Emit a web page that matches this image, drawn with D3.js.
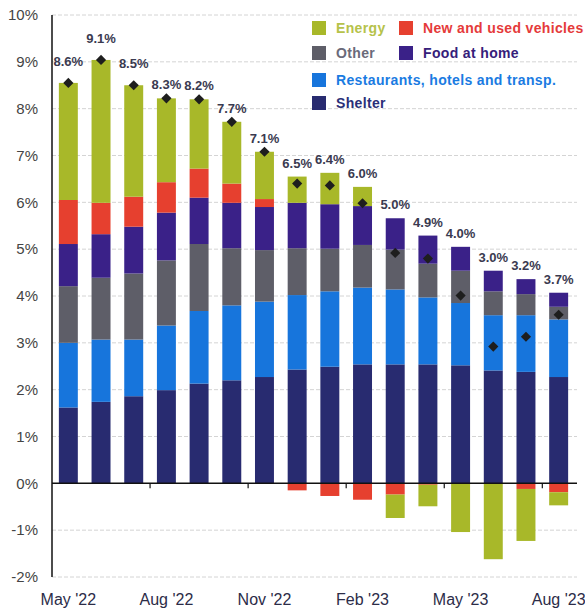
<!DOCTYPE html>
<html><head><meta charset="utf-8">
<script src="https://cdn.jsdelivr.net/npm/d3@7"></script>
<style>body{margin:0;background:#fff}svg{display:block}text{font-family:Arial,"Liberation Sans",sans-serif}</style>
</head><body><svg id="c" width="585" height="609"></svg>
<script>
const months = ["May '22","Jun '22","Jul '22","Aug '22","Sep '22","Oct '22","Nov '22","Dec '22","Jan '23","Feb '23","Mar '23","Apr '23","May '23","Jun '23","Jul '23","Aug '23"];
const shelter     = [1.62,1.74,1.86,1.99,2.13,2.20,2.27,2.43,2.49,2.54,2.54,2.54,2.52,2.41,2.38,2.27];
const restaurants = [1.38,1.33,1.21,1.38,1.55,1.60,1.61,1.59,1.61,1.64,1.60,1.43,1.33,1.18,1.21,1.23];
const other       = [1.21,1.32,1.41,1.39,1.43,1.22,1.10,1.00,0.91,0.91,0.85,0.72,0.69,0.51,0.45,0.27];
const foodAtHome  = [0.90,0.93,1.00,1.02,0.99,0.97,0.92,0.97,0.95,0.83,0.67,0.60,0.51,0.44,0.32,0.30];
const vehicles    = [0.94,0.67,0.64,0.65,0.62,0.41,0.17,-0.15,-0.27,-0.35,-0.24,-0.03,0.00,0.00,-0.12,-0.19];
const energy      = [2.50,3.05,2.38,1.79,1.48,1.32,1.01,0.56,0.67,0.41,-0.50,-0.46,-1.04,-1.62,-1.11,-0.28];
const cpiLabels   = ["8.6%","9.1%","8.5%","8.3%","8.2%","7.7%","7.1%","6.5%","6.4%","6.0%","5.0%","4.9%","4.0%","3.0%","3.2%","3.7%"];
const yTicks = [-2,-1,0,1,2,3,4,5,6,7,8,9,10];
const xTickLabels = ["May '22","Aug '22","Nov '22","Feb '23","May '23","Aug '23"];

const seriesKeys = ["shelter","restaurants","other","food","vehicles","energy"];
const seriesNames = {shelter:"Shelter",restaurants:"Restaurants, hotels and transp.",other:"Other",food:"Food at home",vehicles:"New and used vehicles",energy:"Energy"};
const colors = {shelter:"#282b70",restaurants:"#1775dc",other:"#5e5e68",food:"#3a2188",vehicles:"#e6402f",energy:"#a8b829"};
const textColors = {shelter:"#2a2f78",restaurants:"#1a7be2",other:"#6a6a7a",food:"#35207a",vehicles:"#e53a3a",energy:"#b6c24a"};

const table = months.map((m,i)=>({month:m,shelter:shelter[i],restaurants:restaurants[i],other:other[i],food:foodAtHome[i],vehicles:vehicles[i],energy:energy[i]}));

const svg = d3.select("#c");
const x = d3.scaleBand().domain(months).range([52,575]).paddingInner(0.42).paddingOuter(0.21);
const y = d3.scaleLinear().domain([-2,10]).range([577,15]);

// gridlines
svg.append("g").selectAll("line").data(yTicks.filter(d=>d!==0)).join("line")
  .attr("x1",52).attr("x2",577).attr("y1",d=>y(d)).attr("y2",d=>y(d))
  .attr("stroke","#d4d4d4").attr("stroke-width",1).attr("stroke-dasharray","4,2");

// y tick labels
svg.append("g").selectAll("text").data(yTicks).join("text")
  .attr("x",38).attr("y",d=>y(d)).attr("dy","0.35em").attr("text-anchor","end")
  .attr("font-size",15).attr("fill","#444").text(d=>d+"%");

// stacked bars
const stack = d3.stack().keys(seriesKeys).offset(d3.stackOffsetDiverging);
const layers = stack(table);
svg.append("g").selectAll("g").data(layers).join("g").attr("fill",d=>colors[d.key])
  .selectAll("rect").data(d=>d).join("rect")
  .attr("x",d=>x(d.data.month)).attr("width",x.bandwidth())
  .attr("y",d=>y(Math.max(d[0],d[1]))).attr("height",d=>Math.abs(y(d[0])-y(d[1])));

// axes lines
svg.append("line").attr("x1",52).attr("x2",52).attr("y1",y(10)).attr("y2",y(-2)).attr("stroke","#111").attr("stroke-width",1.5);
svg.append("line").attr("x1",52).attr("x2",577).attr("y1",y(0)).attr("y2",y(0)).attr("stroke","#111").attr("stroke-width",1.5);

// x ticks at boundaries and labels
const step = x.step(), gap = step - x.bandwidth();
const tickMonths = months.filter(m=>xTickLabels.includes(m));
svg.append("g").selectAll("line").data(tickMonths.slice(1)).join("line")
  .attr("x1",d=>x(d)-gap/2).attr("x2",d=>x(d)-gap/2).attr("y1",y(0)).attr("y2",y(0)+5)
  .attr("stroke","#111").attr("stroke-width",1.2);
svg.append("g").selectAll("text").data(tickMonths).join("text")
  .attr("x",d=>x(d)+x.bandwidth()/2).attr("y",605).attr("text-anchor","middle")
  .attr("font-size",16).attr("fill","#2c2c48").text(d=>d);

// diamonds for net totals
const net = table.map(d=>seriesKeys.reduce((s,k)=>s+d[k],0));
const posTop = table.map(d=>seriesKeys.reduce((s,k)=>s+Math.max(0,d[k]),0));
svg.append("g").selectAll("path").data(table).join("path")
  .attr("d",d3.symbol(d3.symbolSquare,52))
  .attr("transform",(d,i)=>`translate(${x(d.month)+x.bandwidth()/2},${y(net[i])}) rotate(45)`)
  .attr("fill","#1e1e1e");

// value labels
svg.append("g").selectAll("text").data(table).join("text")
  .attr("x",d=>x(d.month)+x.bandwidth()/2).attr("y",(d,i)=>y(posTop[i])-(i<3?17:9))
  .attr("text-anchor","middle").attr("font-size",13).attr("font-weight","bold")
  .attr("fill","#3a3a50").text((d,i)=>cpiLabels[i]);

// legend
const legendItems = [
  {k:"energy",col:0,row:0},{k:"vehicles",col:1,row:0},
  {k:"other",col:0,row:1},{k:"food",col:1,row:1},
  {k:"restaurants",col:0,row:2},{k:"shelter",col:0,row:3}];
const colX=[312,399], rowY=[28,53,80,103];
const lg = svg.append("g");
legendItems.forEach(it=>{
  lg.append("rect").attr("x",colX[it.col]).attr("y",rowY[it.row]-7).attr("width",14).attr("height",14).attr("fill",colors[it.k]);
  lg.append("text").attr("x",colX[it.col]+24).attr("y",rowY[it.row]).attr("dy","0.35em")
    .attr("font-size",14).attr("letter-spacing","0.35px").attr("font-weight","bold").attr("fill",textColors[it.k]).text(seriesNames[it.k]);
});
</script></body></html>
